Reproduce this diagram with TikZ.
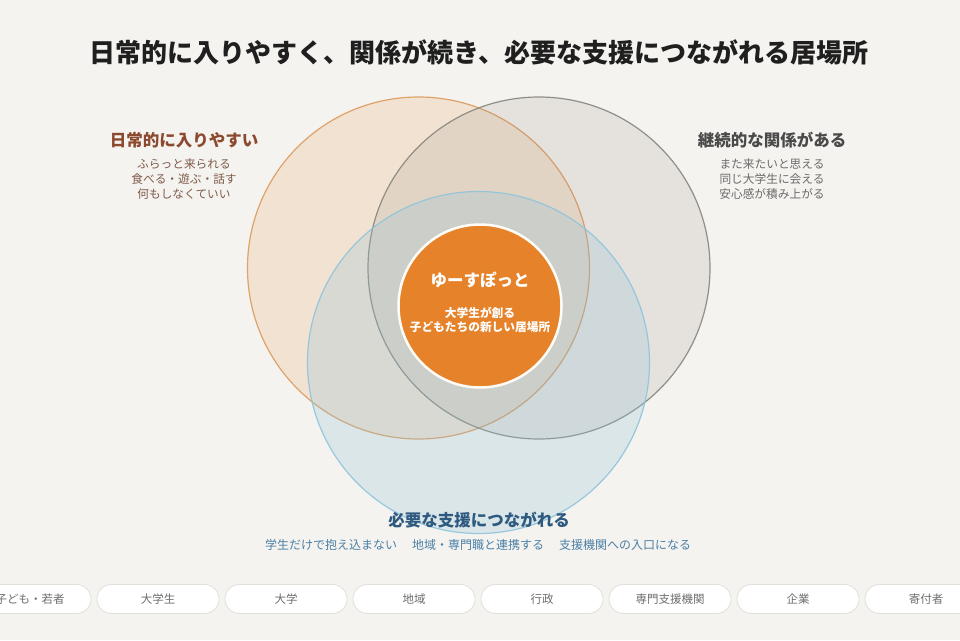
\documentclass[tikz,border=0pt]{standalone}
\usepackage{fontspec}
\setmainfont{Noto Sans CJK JP}
\definecolor{bg}{HTML}{F5F3EF}
\definecolor{orng}{HTML}{E6832A}
\definecolor{orngline}{HTML}{DC9A5E}
\definecolor{gry}{HTML}{8A8780}
\definecolor{gryline}{HTML}{85857F}
\definecolor{blu}{HTML}{8EC2D8}
\definecolor{bluline}{HTML}{8FC4DC}
\definecolor{brownhead}{HTML}{8B4A2F}
\definecolor{brownsub}{HTML}{7E5A4A}
\definecolor{grayhead}{HTML}{4A4A4A}
\definecolor{graysub}{HTML}{6A6A6A}
\definecolor{bluehead}{HTML}{2F5A80}
\definecolor{bluesub}{HTML}{4A7FA6}
\definecolor{chipline}{HTML}{E2DFD9}
\definecolor{chiptext}{HTML}{6E6E6E}
\begin{document}
\begin{tikzpicture}[x=1pt,y=-1pt,
  venn/.style={circle, minimum size=342pt, inner sep=0pt, line width=1.2pt, fill opacity=0.15, draw opacity=0.9},
  headtext/.style={font=\fontsize{16.5}{20}\selectfont\bfseries, anchor=center},
  subtext/.style={font=\fontsize{11.7}{15}\selectfont, align=center, anchor=north},
  chip/.style={draw=chipline, fill=white, line width=0.8pt, rounded corners=14.5pt, minimum width=122pt, minimum height=29pt, inner sep=0pt, font=\fontsize{11.5}{14}\selectfont, text=chiptext}]
\fill[bg] (0,0) rectangle (960,640);
\useasboundingbox (0,0) rectangle (960,640);

\node[font=\fontsize{26}{30}\selectfont\bfseries, text=black!88] (title) at (479,52) {日常的に入りやすく、関係が続き、必要な支援につながれる居場所};

\node[venn, fill=orng, draw=orngline] (c1) at (418.5,268) {};
\node[venn, fill=gry, draw=gryline] (c2) at (539,268) {};
\node[venn, fill=blu, draw=bluline, fill opacity=0.25] (c3) at (478.5,362.5) {};

\node[circle, minimum size=163pt, inner sep=0pt, fill=orng, draw=white!97!orange, line width=2.5pt] (core) at (480,306) {};
\node[font=\fontsize{16.5}{20}\selectfont\bfseries, text=white] (coretitle) at (480,280) {ゆーすぽっと};
\node[font=\fontsize{11.7}{14}\selectfont\bfseries, text=white, align=center] (coresub) at (480,320) {大学生が創る\\子どもたちの新しい居場所};

\node[headtext, text=brownhead] (h1) at (184,140) {日常的に入りやすい};
\node[subtext, text=brownsub] (s1) at (184,155) {ふらっと来られる\\食べる・遊ぶ・話す\\何もしなくていい};

\node[headtext, text=grayhead] (h2) at (772,140) {継続的な関係がある};
\node[subtext, text=graysub] (s2) at (772,155) {また来たいと思える\\同じ大学生に会える\\安心感が積み上がる};

\node[headtext, text=bluehead] (h3) at (479,520) {必要な支援につながれる};
\node[font=\fontsize{12}{14}\selectfont, text=bluesub] (s3) at (478,545) {学生だけで抱え込まない\hspace{15pt}地域・専門職と連携する\hspace{15pt}支援機関への入口になる};

\foreach \x/\t [count=\i] in {30/子ども・若者,158/大学生,286/大学,414/地域,542/行政,670/専門支援機関,798/企業,926/寄付者}
  \node[chip] (chip\i) at (\x,599) {\t};
\end{tikzpicture}
\end{document}
